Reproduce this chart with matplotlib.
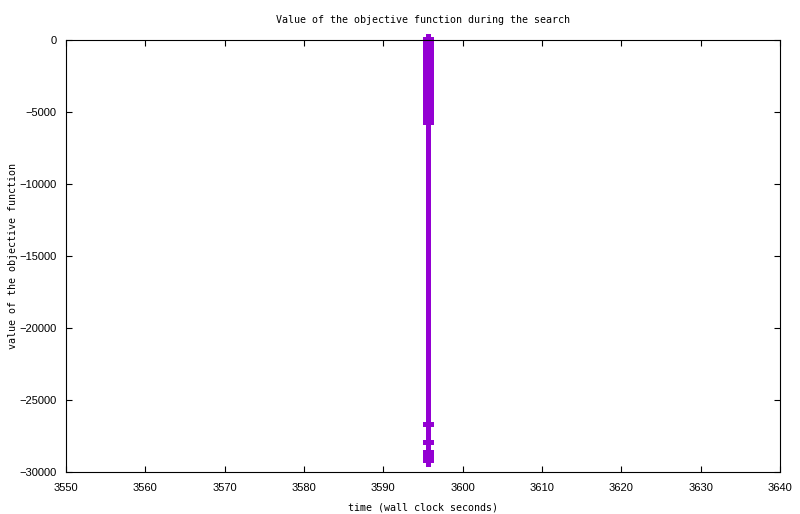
import matplotlib
matplotlib.use("Agg")
from matplotlib import pyplot as plt

# times (wall clock seconds) of the search trace
t_main = 3595.63
t_low = 3594.95
t_high = 3596.30

# objective values where the trace spreads over [t_low, t_high]
spread_levels = [80, -170, -420, -670, -920, -1170, -1420, -1680, -1930, -2180,
	-2430, -2680, -2930, -3180, -3430, -3680, -3930, -4180, -4430, -4680,
	-4930, -5180, -5430, -5675,
	-26670, -27920,
	-28600, -28800, -29000, -29160]
start_value = 420
end_value = -29610

x_ticks = [3550, 3560, 3570, 3580, 3590, 3600, 3610, 3620, 3630, 3640]
y_ticks = [0, -5000, -10000, -15000, -20000, -25000, -30000]

time_s = [t_main]
objective = [start_value]
for v in spread_levels:
	time_s += [t_main, t_low, t_high, t_main]
	objective += [v, v, v, v]
time_s.append(t_main)
objective.append(end_value)

fig = plt.figure(figsize=(8, 5.14), dpi=100)
ax = fig.add_axes([0.0825, 0.0817, 0.8925, 0.8405])

ax.plot(time_s, objective, color="#9400d3", linewidth=3.4, solid_joinstyle="bevel",
	solid_capstyle="butt", antialiased=False, clip_on=False)

ax.set_xlim(3550, 3640)
ax.set_ylim(-30000, 0)
ax.set_xticks(x_ticks, [f"{t}" for t in x_ticks])
ax.set_yticks(y_ticks, [f"{t}".replace("-", "\u2212") for t in y_ticks])
ax.tick_params(direction="in", length=4, width=0.8, top=True, right=True,
	labelsize=8, colors="black")
ax.tick_params(axis="x", pad=8)
ax.tick_params(axis="y", pad=7)
for label in ax.get_xticklabels() + ax.get_yticklabels():
	label.set_family("Liberation Sans")
for spine in ax.spines.values():
	spine.set_linewidth(0.8)

ax.set_title("Value of the objective function during the search",
	fontsize=7.2, family="DejaVu Sans Mono", pad=12)
ax.set_xlabel("time (wall clock seconds)", fontsize=7.2, family="DejaVu Sans Mono", labelpad=7)
ax.set_ylabel("value of the objective function", fontsize=7.2, family="DejaVu Sans Mono", va="center")
ax.yaxis.set_label_coords(-0.0745, 0.5)

fig.savefig("out.png", dpi=100)
